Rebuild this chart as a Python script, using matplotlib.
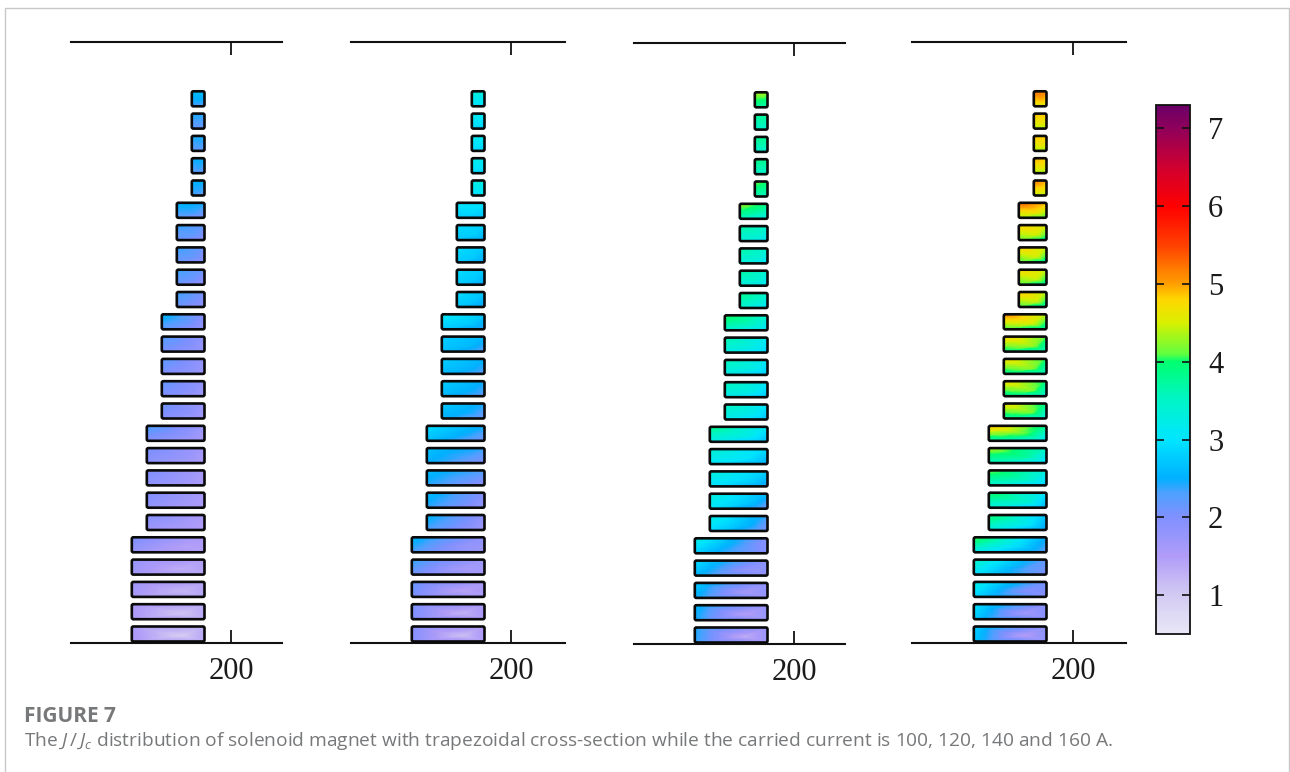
import numpy as np
import matplotlib
matplotlib.use('Agg')
import matplotlib.pyplot as plt
import matplotlib.tri as mtri
from matplotlib.colors import LinearSegmentedColormap, Normalize
from matplotlib.cm import ScalarMappable
from matplotlib.patches import FancyBboxPatch, Rectangle

plt.rcParams['font.family'] = ['Liberation Serif', 'DejaVu Serif']
plt.rcParams['mathtext.fontset'] = 'custom'
plt.rcParams['mathtext.rm'] = 'Open Sans'
plt.rcParams['mathtext.it'] = 'Open Sans:italic'

# coil radial width, bottom coil to top coil
coil_width = [74] * 5 + [59] * 5 + [44] * 5 + [29] * 5 + [14] * 5

# J/Jc in each coil, bottom to top: top-left, top-right, bottom-left, bottom-right, inner point
field_100 = [
    [1.55, 1.35, 1.6, 1.4, 0.95], [1.6, 1.4, 1.55, 1.35, 1.05], [1.7, 1.45, 1.6, 1.4, 1.2],
    [1.8, 1.5, 1.65, 1.4, 1.3], [2.05, 1.55, 1.75, 1.45, 1.45],
    [1.95, 1.55, 1.7, 1.45, 1.6], [2.0, 1.6, 1.8, 1.5, 1.65], [2.0, 1.6, 1.85, 1.5, 1.7],
    [2.05, 1.65, 1.85, 1.5, 1.75], [2.35, 1.7, 1.95, 1.55, 1.85],
    [2.15, 1.75, 1.95, 1.6, 1.85], [2.2, 1.8, 2.0, 1.65, 1.9], [2.25, 1.8, 2.0, 1.7, 1.9],
    [2.3, 1.85, 2.05, 1.7, 1.95], [2.6, 1.95, 2.2, 1.75, 2.1],
    [2.4, 2.05, 2.1, 1.8, 2.05], [2.4, 2.1, 2.1, 1.8, 2.1], [2.4, 2.1, 2.1, 1.85, 2.15],
    [2.4, 2.15, 2.1, 1.85, 2.2], [2.6, 2.45, 2.2, 1.95, 2.35],
    [2.55, 2.5, 2.3, 2.15, 2.4], [2.5, 2.5, 2.2, 2.1, 2.4], [2.45, 2.45, 2.2, 2.1, 2.35],
    [2.45, 2.4, 2.15, 2.05, 2.3], [2.6, 2.6, 2.3, 2.2, 2.5],
]
field_120 = [
    [1.95, 1.55, 1.95, 1.55, 1.1], [2.05, 1.6, 2.0, 1.55, 1.25], [2.2, 1.6, 2.05, 1.55, 1.4],
    [2.45, 1.7, 2.1, 1.6, 1.6], [2.65, 1.85, 2.3, 1.7, 1.8],
    [2.6, 1.85, 2.3, 1.65, 2.0], [2.65, 2.0, 2.4, 1.75, 2.1], [2.65, 2.3, 2.4, 1.85, 2.2],
    [2.7, 2.4, 2.5, 1.95, 2.3], [2.95, 2.5, 2.65, 2.05, 2.45],
    [2.75, 2.45, 2.5, 2.1, 2.45], [2.8, 2.5, 2.6, 2.2, 2.5], [2.8, 2.55, 2.6, 2.2, 2.55],
    [2.8, 2.6, 2.65, 2.2, 2.6], [3.1, 2.75, 2.75, 2.3, 2.75],
    [2.95, 2.7, 2.7, 2.35, 2.7], [2.95, 2.75, 2.75, 2.4, 2.75], [2.95, 2.75, 2.75, 2.4, 2.75],
    [2.95, 2.8, 2.7, 2.45, 2.8], [3.05, 3.0, 2.8, 2.65, 2.9],
    [3.25, 3.25, 2.95, 2.9, 3.1], [3.2, 3.15, 2.9, 2.85, 3.0], [3.15, 3.1, 2.85, 2.8, 3.0],
    [3.15, 3.1, 2.85, 2.8, 3.0], [3.3, 3.3, 3.0, 3.0, 3.1],
]
field_140 = [
    [2.5, 1.75, 2.45, 1.7, 1.3], [2.65, 1.8, 2.5, 1.75, 1.45], [2.8, 1.85, 2.55, 1.8, 1.6],
    [3.0, 1.9, 2.6, 1.8, 1.85], [3.3, 1.95, 2.8, 1.9, 2.2],
    [3.3, 2.35, 2.9, 2.0, 2.55], [3.35, 2.6, 3.0, 2.1, 2.7], [3.35, 2.8, 3.0, 2.35, 2.85],
    [3.4, 2.9, 3.05, 2.45, 3.0], [3.85, 3.05, 3.2, 2.6, 3.2],
    [3.55, 3.0, 3.15, 2.65, 3.15], [3.6, 3.05, 3.2, 2.7, 3.2], [3.6, 3.1, 3.2, 2.7, 3.2],
    [3.65, 3.1, 3.25, 2.8, 3.25], [4.1, 3.4, 3.4, 2.95, 3.5],
    [3.85, 3.5, 3.4, 2.95, 3.4], [3.7, 3.4, 3.3, 2.95, 3.4], [3.7, 3.4, 3.3, 2.95, 3.4],
    [3.7, 3.45, 3.3, 3.0, 3.45], [4.35, 3.9, 3.5, 3.2, 3.65],
    [4.2, 4.0, 3.6, 3.5, 3.75], [3.9, 3.8, 3.45, 3.4, 3.6], [3.85, 3.8, 3.4, 3.35, 3.6],
    [3.8, 3.75, 3.45, 3.35, 3.6], [4.4, 4.3, 3.7, 3.6, 3.9],
]
field_160 = [
    [2.85, 1.9, 2.75, 1.85, 1.45], [3.05, 1.95, 2.8, 1.9, 1.65], [3.3, 2.1, 2.9, 1.95, 2.0],
    [3.55, 2.2, 3.0, 2.0, 2.3], [4.2, 2.5, 3.2, 2.2, 2.8],
    [4.05, 2.7, 3.25, 2.35, 3.1], [4.05, 3.0, 3.3, 2.5, 3.4], [4.2, 3.3, 3.4, 2.75, 3.5],
    [4.35, 3.5, 3.5, 2.85, 3.7], [4.95, 3.8, 3.65, 3.0, 4.0],
    [4.7, 3.85, 3.7, 3.2, 4.15], [4.7, 3.9, 3.75, 3.3, 4.2], [4.7, 4.0, 3.8, 3.4, 4.25],
    [4.8, 4.1, 3.85, 3.45, 4.3], [5.15, 4.4, 4.0, 3.6, 4.5],
    [4.9, 4.4, 4.0, 3.6, 4.45], [4.8, 4.45, 4.0, 3.65, 4.45], [4.8, 4.45, 4.0, 3.65, 4.5],
    [4.85, 4.55, 4.1, 3.75, 4.5], [5.3, 4.9, 4.3, 3.95, 4.7],
    [5.2, 5.0, 4.4, 4.3, 4.7], [4.95, 4.85, 4.3, 4.2, 4.65], [4.9, 4.85, 4.3, 4.25, 4.65],
    [4.9, 4.85, 4.35, 4.3, 4.65], [5.25, 5.15, 4.55, 4.5, 4.9],
]
fields = [field_100, field_120, field_140, field_160]

# colour scale stops
cbar_ticks = [1, 2, 3, 4, 5, 6, 7]
stop_values = [0.5, 1.0, 1.5, 2.0, 2.3, 2.5, 3.0, 3.5, 4.0, 4.1, 4.5, 4.8, 5.0, 5.5, 6.0, 6.5, 7.0, 7.3]
stop_colors = ['#e9e7f6', '#d2caf2', '#b09cf8', '#8090ff', '#4fa0ff', '#00b0ff', '#00e5ff', '#00f5c8',
               '#00ff70', '#60ff40', '#d8f000', '#ffd700', '#ffa000', '#ff4000', '#ff0000', '#d00030',
               '#90005a', '#6a0068']

W, H = 1290, 772
vmin, vmax = stop_values[0], stop_values[-1]
norm = Normalize(vmin, vmax)
cmap = LinearSegmentedColormap.from_list(
    'jjc', [((v - vmin) / (vmax - vmin), c) for v, c in zip(stop_values, stop_colors)], N=512)

# pixel layout of each panel: left, right, top, bottom, x of the 200 tick
panels = [(71, 282, 42, 643, 231), (351, 565, 42, 643, 511),
          (634, 845, 43, 644, 794), (912, 1126, 42, 643, 1073)]
tick_to_coil = 26   # radial gap between outer coil edge and the 200 tick
pitch = 22.3
coil_h = 15.0
first_centre = 9.0


def add_axes_px(left, right, top, bottom):
    return fig.add_axes([left / W, 1 - bottom / H, (right - left) / W, (bottom - top) / H])


def draw_coil(ax, x0, x1, y0, y1, vals):
    tl, tr, bl, br, mid = vals
    xm = x0 + 0.68 * (x1 - x0)
    ym = y0 + 0.38 * (y1 - y0)
    tri = mtri.Triangulation([x0, x1, x0, x1, xm], [y1, y1, y0, y0, ym],
                             [[0, 1, 4], [1, 3, 4], [3, 2, 4], [2, 0, 4]])
    z = np.array([tl, tr, bl, br, mid])
    fine, zfine = mtri.UniformTriRefiner(tri).refine_field(
        z, triinterpolator=mtri.LinearTriInterpolator(tri, z), subdiv=3)
    mesh = ax.tripcolor(fine, zfine, shading='gouraud', cmap=cmap, norm=norm, rasterized=True)
    box = FancyBboxPatch((x0, y0), x1 - x0, y1 - y0, boxstyle='round,pad=0,rounding_size=1.6',
                         fc='none', ec='#0a0a0a', lw=1.9, zorder=4)
    ax.add_patch(box)
    mesh.set_clip_path(box)


fig = plt.figure(figsize=(W / 100, H / 100), dpi=100)

# page frame of the article
fig.add_artist(Rectangle((4.5 / W, -0.05), (W - 6) / W, 1.05 - 8 / H, transform=fig.transFigure,
                         fc='none', ec='#c8c8c8', lw=1.0))

for (left, right, top, bottom, tick_x), field in zip(panels, fields):
    ax = add_axes_px(left, right, top, bottom)
    # one data unit is one pixel wide, so the 200 tick sets the x limits
    ax.set_xlim(200 - (tick_x - left), 200 + (right - tick_x))
    ax.set_ylim(0, bottom - top)
    outer = 200 - tick_to_coil
    for i, (w, vals) in enumerate(zip(coil_width, field)):
        yc = first_centre + pitch * i
        draw_coil(ax, outer - w + 0.8, outer - 0.5, yc - coil_h / 2, yc + coil_h / 2, vals)
    for s in ['left', 'right']:
        ax.spines[s].set_visible(False)
    for s in ['top', 'bottom']:
        ax.spines[s].set_linewidth(1.5)
        ax.spines[s].set_color('#111111')
    ax.set_xticks([200])
    ax.set_yticks([])
    ax.tick_params(axis='x', direction='in', top=True, bottom=True, length=9.5, width=1.3,
                   color='#111111', labelsize=22, pad=10, labelcolor='#1a1a1a')
    ax.patch.set_alpha(0)

# colour bar
cax = add_axes_px(1156, 1190, 105, 634)
cb = fig.colorbar(ScalarMappable(norm=norm, cmap=cmap), cax=cax, ticks=cbar_ticks)
cb.outline.set_linewidth(1.3)
cb.outline.set_edgecolor('#111111')
cax.tick_params(axis='y', direction='in', left=True, right=True, length=5.5, width=1.2,
                color='#111111', labelsize=22, pad=13, labelcolor='#1a1a1a')

# caption
fig.text(24 / W, 1 - 716 / H, 'FIGURE 7', family='Open Sans', fontsize=15, weight='bold',
         color='#77787a', va='center')
fig.text(24 / W, 1 - 741 / H,
         r'The $\mathit{J}\,/\,\mathit{J_c}$ distribution of solenoid magnet with trapezoidal cross-section '
         'while the carried current is 100, 120, 140 and 160 A.',
         family='Open Sans', fontsize=13.75, color='#77787a', va='center')

fig.savefig('out.png', dpi=100)
